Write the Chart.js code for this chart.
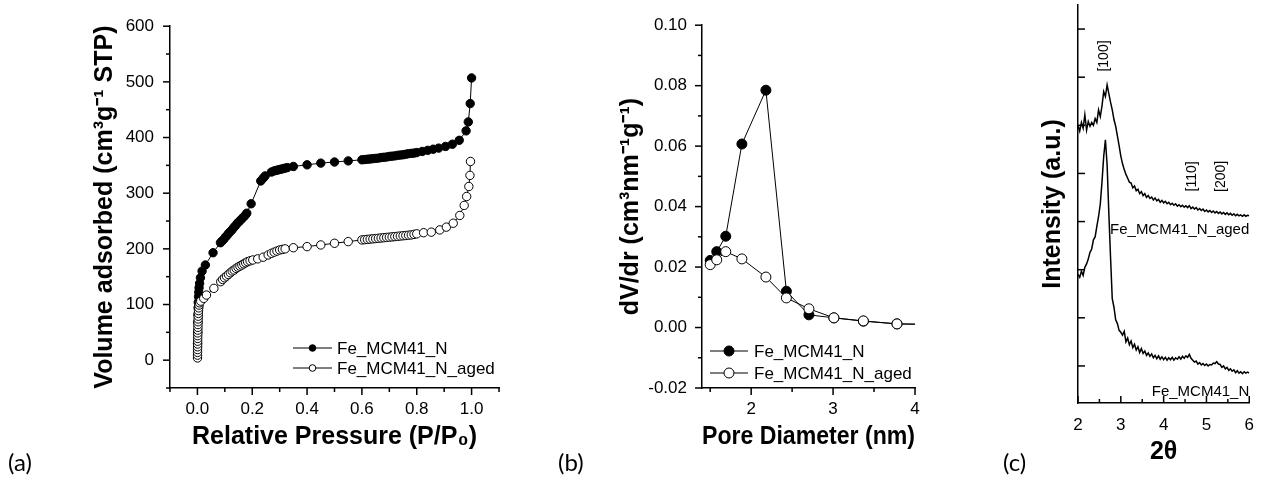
<!DOCTYPE html>
<html lang="en">
<head>
<meta charset="UTF-8">
<title>Fe_MCM41 textural and structural characterisation</title>
<script src="https://cdn.jsdelivr.net/npm/chart.js"></script>
<style>
    body { margin: 0; background: #fff; }
    #figure { position: relative; width: 1266px; height: 481px; overflow: hidden; background: #fff; }
    #figure canvas { position: absolute; top: 0; }
    .panel-label { position: absolute; font-family: Lato, 'Open Sans', sans-serif; font-size: 24px; line-height: 1; color: #000; }
</style>
</head>
<body>
<div id="figure">
    <canvas id="chartA" width="540" height="481" style="left:0px;width:540px;height:481px"></canvas>
    <canvas id="chartB" width="420" height="481" style="left:540px;width:420px;height:481px"></canvas>
    <canvas id="chartC" width="306" height="481" style="left:960px;width:306px;height:481px"></canvas>
    <div class="panel-label" style="left:8px;top:450px">(a)</div>
    <div class="panel-label" style="left:558px;top:450px">(b)</div>
    <div class="panel-label" style="left:1003px;top:450px">(c)</div>
</div>

<script>
// ---- (a) N2 adsorption isotherms ----
const pressureN = [0.0005, 0.001, 0.0015, 0.002, 0.0025, 0.003, 0.004, 0.005, 0.006, 0.008,
    0.011, 0.017, 0.029, 0.057, 0.084, 0.090, 0.096, 0.102, 0.108, 0.114,
    0.120, 0.126, 0.132, 0.138, 0.144, 0.150, 0.156, 0.162, 0.168, 0.174,
    0.180, 0.196, 0.231, 0.240, 0.247, 0.270, 0.280, 0.288, 0.296, 0.304,
    0.312, 0.320, 0.328, 0.350, 0.400, 0.450, 0.500, 0.550, 0.600, 0.610,
    0.620, 0.630, 0.640, 0.650, 0.660, 0.670, 0.680, 0.690, 0.700, 0.710,
    0.720, 0.730, 0.740, 0.750, 0.760, 0.770, 0.780, 0.790, 0.800, 0.820,
    0.840, 0.860, 0.880, 0.905, 0.930, 0.955, 0.980, 0.988, 0.995, 1.000];
const volumeN = [30, 50, 68, 82, 94, 104, 114, 122, 130, 138,
    148, 160, 171, 193, 211, 214, 217, 221, 224, 228,
    231, 234, 238, 241, 245, 248, 251, 254, 257, 260,
    264, 281, 322, 327, 331, 338, 340, 341, 342, 343,
    344, 345, 346, 348, 351, 354, 356, 358, 360, 360.5,
    361, 361.5, 362, 362.5, 363, 364, 364.5, 365, 366, 366.5,
    367, 368, 368.5, 369, 370, 371, 371.5, 372, 373, 375,
    377, 379, 381, 384, 388, 395, 412, 428, 461, 507];

const pressureAged = [0.0003, 0.0004, 0.0005, 0.0006, 0.0007, 0.0008, 0.0009, 0.001, 0.0012, 0.0014,
    0.0016, 0.0018, 0.002, 0.0023, 0.0026, 0.003, 0.0035, 0.004, 0.005, 0.006,
    0.008, 0.012, 0.023, 0.033, 0.060, 0.085, 0.092, 0.099, 0.106, 0.113,
    0.120, 0.127, 0.134, 0.141, 0.148, 0.155, 0.162, 0.169, 0.176, 0.183,
    0.192, 0.202, 0.220, 0.240, 0.258, 0.270, 0.280, 0.290, 0.300, 0.310,
    0.320, 0.350, 0.400, 0.450, 0.500, 0.550, 0.600, 0.610, 0.620, 0.630,
    0.640, 0.650, 0.660, 0.670, 0.680, 0.690, 0.700, 0.710, 0.720, 0.730,
    0.740, 0.750, 0.760, 0.770, 0.780, 0.790, 0.800, 0.825, 0.853, 0.884,
    0.908, 0.933, 0.957, 0.973, 0.982, 0.990, 0.994, 0.996];
const volumeAged = [4, 9, 14, 19, 24, 29, 34, 39, 44, 49,
    54, 59, 64, 69, 74, 79, 84, 89, 94, 99,
    103, 106, 111, 117, 129, 141, 145, 148, 151, 154,
    157, 160, 162, 165, 167, 169, 171, 173, 175, 177,
    178.5, 180, 182, 185, 189, 192, 194, 196, 198, 199,
    200, 202, 204, 207, 210, 213, 216, 216.5, 217, 217.5,
    218, 218.5, 219, 219.5, 220, 220.5, 221, 221.5, 222, 222.5,
    223, 223.5, 224, 224.5, 225, 226, 227, 229, 230, 234,
    239, 246, 260, 278, 294, 312, 332, 357];

const xTicksA = [0, 0.2, 0.4, 0.6, 0.8, 1.0];
const xMinorA = [-0.1, 0.1, 0.3, 0.5, 0.7, 0.9, 1.1];
const yTicksA = [0, 100, 200, 300, 400, 500, 600];
const yMinorA = [-50, 50, 150, 250, 350, 450, 550];

// ---- (b) pore size distribution ----
const poreDiameter = [1.50, 1.58, 1.69, 1.887, 2.18, 2.43, 2.705, 3.01, 3.37, 3.78, 4.3];
const dvdrN =    [0.0222, 0.0251, 0.0302, 0.0607, 0.0785, 0.0120, 0.0042, 0.0032, 0.0021, 0.0012, 0.0010];
const dvdrAged = [0.0208, 0.0224, 0.0251, 0.0227, 0.0167, 0.0098, 0.0062, 0.0032, 0.0022, 0.0012, 0.0010];

const xTicksB = [2, 3, 4];
const xMinorB = [1.5, 2.5, 3.5];
const yTicksB = [-0.02, 0, 0.02, 0.04, 0.06, 0.08, 0.10];
const yMinorB = [-0.01, 0.01, 0.03, 0.05, 0.07, 0.09];

// ---- (c) low-angle XRD ----
const twoTheta = [2.00, 2.04, 2.08, 2.12, 2.16, 2.20, 2.24, 2.28, 2.32, 2.36,
    2.40, 2.44, 2.48, 2.52, 2.56, 2.60, 2.64, 2.68, 2.72, 2.76,
    2.80, 2.84, 2.88, 2.92, 2.96, 3.00, 3.04, 3.08, 3.12, 3.16,
    3.20, 3.24, 3.28, 3.32, 3.36, 3.40, 3.44, 3.48, 3.52, 3.56,
    3.60, 3.64, 3.68, 3.72, 3.76, 3.80, 3.84, 3.88, 3.92, 3.96,
    4.00, 4.04, 4.08, 4.12, 4.16, 4.20, 4.24, 4.28, 4.32, 4.36,
    4.40, 4.44, 4.48, 4.52, 4.56, 4.60, 4.64, 4.68, 4.72, 4.76,
    4.80, 4.84, 4.88, 4.92, 4.96, 5.00, 5.04, 5.08, 5.12, 5.16,
    5.20, 5.24, 5.28, 5.32, 5.36, 5.40, 5.44, 5.48, 5.52, 5.56,
    5.60, 5.64, 5.68, 5.72, 5.76, 5.80, 5.84, 5.88, 5.92, 5.96,
    6.00];
const intensityN = [190, 184, 197, 188, 205, 212, 222, 236, 243, 262,
    268, 290, 310, 336, 382, 435, 470, 418, 318, 226,
    140, 122, 96, 88, 74, 70, 64, 72, 50, 58,
    44, 52, 38, 45, 33, 40, 28, 36, 26, 31,
    22, 27, 20, 25, 17, 22, 15, 21, 14, 19,
    13, 18, 12, 17, 13, 18, 12, 17, 14, 19,
    14, 20, 16, 21, 18, 24, 16, 12, 8, 10,
    4, 7, 2, 5, 1, 4, 0, 3, 2, 6,
    5, 9, 4, 3, -3, 0, -6, -3, -9, -6,
    -11, -8, -14, -10, -15, -12, -16, -12, -15, -13,
    -15];
const intensityAged = [500, 488, 506, 494, 522, 490, 508, 498, 506, 500,
    514, 506, 532, 518, 540, 570, 560, 584, 566, 548,
    532, 512, 498, 478, 458, 436, 420, 408, 398, 390,
    382, 380, 370, 374, 364, 367, 358, 362, 354, 358,
    350, 354, 348, 351, 345, 349, 343, 346, 340, 344,
    339, 342, 337, 340, 335, 338, 334, 337, 332, 335,
    331, 334, 330, 333, 329, 333, 327, 330, 326, 329,
    324, 327, 323, 326, 321, 324, 320, 323, 319, 322,
    318, 321, 317, 320, 316, 319, 315, 318, 314, 317,
    313, 316, 312, 315, 312, 314, 311, 314, 311, 313,
    312];

const xTicksC = [2, 3, 4, 5, 6];
const xMinorC = [2.5, 3.5, 4.5, 5.5];
const yTicksC = [0, 100, 200, 300, 400, 500, 600, 700];

const FONT = "'Liberation Sans', Arial, Helvetica, sans-serif";
Chart.defaults.font.family = FONT;
Chart.defaults.color = '#000';

const tickFont = { family: FONT, size: 17 };
const titleFont = { family: FONT, size: 25, weight: 'bold' };

const pairs = (xs, ys) => xs.map((x, i) => ({ x: x, y: ys[i] }));
const setTicks = values => scale => { scale.ticks = values.map(v => ({ value: v })); };
const pinWidth = px => scale => { scale.width = px; };
const pinHeight = px => scale => { scale.height = px; };

// major and minor tick marks, drawn on the axes
const tickMarks = {
    id: 'tickMarks',
    afterDraw(chart, args, opts) {
        const ctx = chart.ctx;
        const { left, bottom } = chart.chartArea;
        const sign = opts.inside ? -1 : 1;
        ctx.save();
        ctx.strokeStyle = '#000';
        ctx.lineWidth = 1.5;
        const draw = (scale, values, len) => {
            (values || []).forEach(v => {
                const p = scale.getPixelForValue(v);
                ctx.beginPath();
                if (scale.isHorizontal()) {
                    ctx.moveTo(p, bottom);
                    ctx.lineTo(p, bottom + sign * len);
                } else {
                    ctx.moveTo(left, p);
                    ctx.lineTo(left - sign * len, p);
                }
                ctx.stroke();
            });
        };
        draw(chart.scales.x, opts.xMajor, opts.majorLen);
        draw(chart.scales.x, opts.xMinor, opts.minorLen);
        draw(chart.scales.y, opts.yMajor, opts.majorLen);
        draw(chart.scales.y, opts.yMinor, opts.minorLen);
        ctx.restore();
    }
};

// legend drawn inside the plot area
const insetLegend = {
    id: 'insetLegend',
    afterDraw(chart, args, opts) {
        if (!opts.show) return;
        const ctx = chart.ctx;
        ctx.save();
        chart.data.datasets.forEach((ds, i) => {
            const y = opts.y + i * opts.rowGap;
            ctx.strokeStyle = '#000';
            ctx.lineWidth = 1;
            ctx.beginPath();
            ctx.moveTo(opts.x, y);
            ctx.lineTo(opts.x + opts.lineLen, y);
            ctx.stroke();
            ctx.beginPath();
            ctx.arc(opts.x + opts.lineLen / 2, y, opts.radius, 0, Math.PI * 2);
            ctx.fillStyle = ds.pointBackgroundColor;
            ctx.fill();
            ctx.stroke();
            ctx.fillStyle = '#000';
            ctx.font = opts.size + 'px ' + FONT;
            ctx.textAlign = 'left';
            ctx.textBaseline = 'middle';
            ctx.fillText(ds.label, opts.x + opts.lineLen + opts.gap, y + 1);
        });
        ctx.restore();
    }
};

// free text placed in data coordinates
const textNotes = {
    id: 'textNotes',
    afterDraw(chart, args, opts) {
        const ctx = chart.ctx;
        const { x, y } = chart.scales;
        (opts.items || []).forEach(n => {
            ctx.save();
            ctx.font = n.size + 'px ' + FONT;
            ctx.fillStyle = '#000';
            ctx.translate(x.getPixelForValue(n.x), y.getPixelForValue(n.y));
            if (n.rotate) ctx.rotate(-Math.PI / 2);
            ctx.textAlign = n.align || 'center';
            ctx.textBaseline = 'middle';
            ctx.fillText(n.text, 0, 0);
            ctx.restore();
        });
    }
};

function axis(opts) {
    return {
        type: 'linear',
        min: opts.min,
        max: opts.max,
        afterBuildTicks: setTicks(opts.ticks),
        afterFit: opts.fit,
        grid: { display: true, drawOnChartArea: false, drawTicks: false },
        border: { display: true, color: '#000', width: 1.5 },
        ticks: {
            display: opts.labels !== false,
            padding: opts.pad,
            font: tickFont,
            color: '#000',
            autoSkip: false,
            maxRotation: 0,
            callback: opts.format || (v => v)
        },
        title: { display: true, text: opts.title, font: titleFont, color: '#000', padding: opts.titlePad }
    };
}

function isoSet(label, xs, ys, fill, radius, order) {
    return {
        label: label,
        data: pairs(xs, ys),
        borderColor: '#000',
        borderWidth: 1,
        pointRadius: radius,
        pointBackgroundColor: fill,
        pointBorderColor: '#000',
        pointBorderWidth: 1,
        tension: 0,
        order: order
    };
}

const common = {
    responsive: false,
    animation: false,
    events: []
};

// (a)
new Chart(document.getElementById('chartA'), {
    type: 'line',
    data: {
        datasets: [
            isoSet('Fe_MCM41_N', pressureN, volumeN, '#000', 4.2, 1),
            isoSet('Fe_MCM41_N_aged', pressureAged, volumeAged, '#fff', 4.2, 0)
        ]
    },
    options: {
        ...common,
        layout: { padding: { left: 0, top: 24, right: 41, bottom: 0 } },
        plugins: {
            legend: { display: false },
            tooltip: { enabled: false },
            tickMarks: { xMajor: xTicksA, xMinor: xMinorA, yMajor: yTicksA, yMinor: yMinorA, majorLen: 7, minorLen: 4 },
            insetLegend: { show: true, x: 293, y: 348, rowGap: 20, lineLen: 39, radius: 3.3, gap: 5, size: 17 }
        },
        scales: {
            x: axis({ min: -0.1, max: 1.1, ticks: xTicksA, fit: pinHeight(93), pad: 11,
                format: v => v.toFixed(1), title: 'Relative Pressure (P/P\u2080)', titlePad: { bottom: 29 } }),
            y: axis({ min: -50, max: 600, ticks: yTicksA, fit: pinWidth(170), pad: 16,
                title: 'Volume adsorbed (cm\u00b3g\u207b\u00b9 STP)', titlePad: { top: 90 } })
        }
    },
    plugins: [tickMarks, insetLegend]
});

// (b)
new Chart(document.getElementById('chartB'), {
    type: 'line',
    data: {
        datasets: [
            isoSet('Fe_MCM41_N', poreDiameter, dvdrN, '#000', 5, 1),
            isoSet('Fe_MCM41_N_aged', poreDiameter, dvdrAged, '#fff', 5, 0)
        ]
    },
    options: {
        ...common,
        layout: { padding: { left: 0, top: 17, right: 45, bottom: 0 } },
        plugins: {
            legend: { display: false },
            tooltip: { enabled: false },
            tickMarks: { xMajor: xTicksB, xMinor: xMinorB, yMajor: yTicksB, yMinor: yMinorB, majorLen: 7, minorLen: 4 },
            insetLegend: { show: true, x: 170, y: 351, rowGap: 22, lineLen: 38, radius: 5, gap: 6, size: 17 }
        },
        scales: {
            x: axis({ min: 1.4, max: 4, ticks: xTicksB, fit: pinHeight(93), pad: 11,
                title: 'Pore Diameter (nm)', titlePad: { bottom: 29 } }),
            y: axis({ min: -0.02, max: 0.10, ticks: yTicksB, fit: pinWidth(162), pad: 15,
                format: v => v.toFixed(2), title: 'dV/dr (cm\u00b3nm\u207b\u00b9g\u207b\u00b9)', titlePad: { top: 76 } })
        }
    },
    plugins: [tickMarks, insetLegend]
});

// (c)
function xrdSet(label, ys) {
    return {
        label: label,
        data: pairs(twoTheta, ys),
        borderColor: '#000',
        borderWidth: 1.5,
        pointRadius: 0,
        tension: 0
    };
}

new Chart(document.getElementById('chartC'), {
    type: 'line',
    data: {
        datasets: [
            xrdSet('Fe_MCM41_N_aged', intensityAged),
            xrdSet('Fe_MCM41_N', intensityN)
        ]
    },
    options: {
        ...common,
        layout: { padding: { left: 0, top: 5, right: 8, bottom: 0 } },
        plugins: {
            legend: { display: false },
            tooltip: { enabled: false },
            tickMarks: { xMajor: xTicksC, xMinor: xMinorC, yMajor: yTicksC, majorLen: 7, minorLen: 4, inside: true },
            textNotes: {
                items: [
                    { text: '[100]', x: 2.6, y: 644, rotate: true, size: 14 },
                    { text: '[110]', x: 4.66, y: 394, rotate: true, size: 14 },
                    { text: '[200]', x: 5.35, y: 394, rotate: true, size: 14 },
                    { text: 'Fe_MCM41_N_aged', x: 6, y: 283, align: 'right', size: 15 },
                    { text: 'Fe_MCM41_N', x: 6, y: -54, align: 'right', size: 15 }
                ]
            }
        },
        scales: {
            x: axis({ min: 2, max: 6, ticks: xTicksC, fit: pinHeight(78), pad: 12,
                title: '2\u03b8', titlePad: { bottom: 14 } }),
            y: axis({ min: -77, max: 750, ticks: yTicksC, fit: pinWidth(118), pad: 4, labels: false,
                title: 'Intensity (a.u.)', titlePad: { top: 78 } })
        }
    },
    plugins: [tickMarks, textNotes]
});
</script>
</body>
</html>
